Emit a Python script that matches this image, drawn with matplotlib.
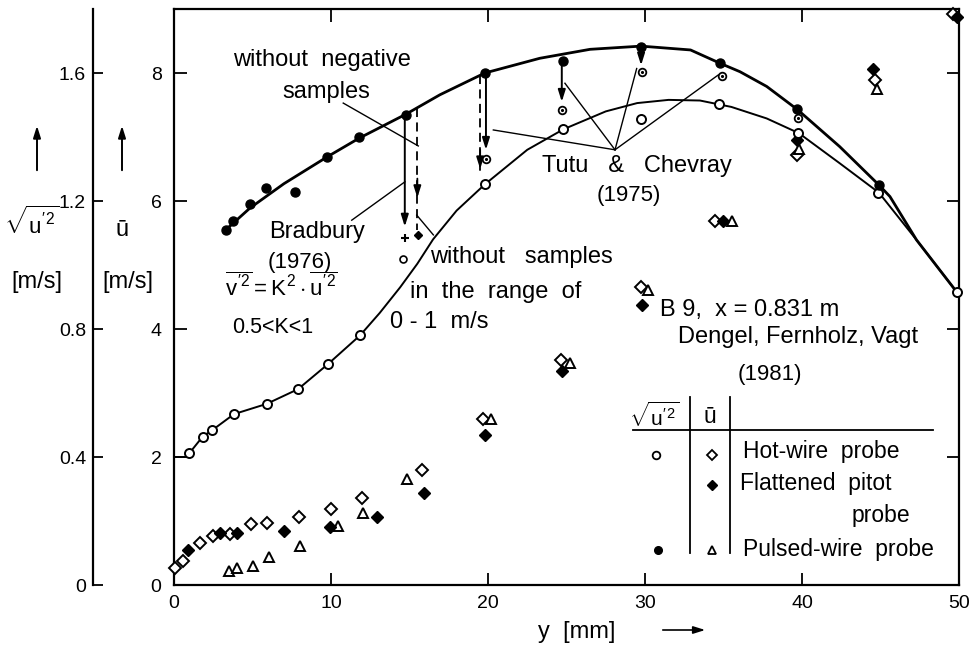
import matplotlib
matplotlib.use('Agg')
import matplotlib.pyplot as plt
from matplotlib.patches import FancyArrowPatch

plt.rcParams['font.family'] = ['Liberation Sans', 'DejaVu Sans']
plt.rcParams['mathtext.fontset'] = 'custom'
plt.rcParams['mathtext.rm'] = 'Liberation Sans'
plt.rcParams['mathtext.it'] = 'Liberation Sans'
plt.rcParams['mathtext.bf'] = 'Liberation Sans:bold'

# ---------------- data ----------------
# r.m.s. of u' (m/s), hot-wire probe (open circles)
y_rms_hw = [0.98, 1.83, 2.44, 3.82, 5.9, 7.9, 9.8, 11.85, 19.8, 24.8, 29.75, 34.73, 39.77, 44.86, 49.85]
urms_hw = [0.412, 0.464, 0.484, 0.534, 0.566, 0.612, 0.69, 0.78, 1.252, 1.424, 1.456, 1.502, 1.412, 1.226, 0.916]
# r.m.s. of u' (m/s), pulsed-wire probe (filled dots)
y_rms_pw = [3.3, 3.78, 4.84, 5.86, 7.73, 9.76, 11.78, 14.78, 19.8, 24.75, 29.75, 34.8, 39.7, 44.9]
urms_pw = [1.11, 1.138, 1.19, 1.242, 1.228, 1.338, 1.40, 1.468, 1.60, 1.636, 1.682, 1.63, 1.486, 1.25]
# hand-drawn fit curves, m/s
y_fit_hw = [0, 0.7, 0.98, 1.83, 2.44, 3.82, 5.9, 7.9, 9.8, 11.85, 13.1, 14.4, 15.5, 16.5, 18.0, 19.8,
            21.0, 22.5, 24.8, 27.5, 29.5, 31.5, 33.5, 35.5, 37.75, 39.8, 42.4, 44.9, 47.3, 49.85]
urms_fit_hw = [0.40, 0.40, 0.412, 0.464, 0.484, 0.534, 0.566, 0.612, 0.69, 0.78, 0.85, 0.93, 1.004, 1.08,
               1.17, 1.252, 1.30, 1.36, 1.424, 1.48, 1.506, 1.516, 1.514, 1.494, 1.458, 1.412, 1.318,
               1.226, 1.078, 0.916]
y_fit_pw = [3.3, 4.84, 7.0, 9.76, 11.78, 14.8, 16.94, 19.8, 23.3, 26.5, 29.75, 32.9, 34.8, 36.05,
            37.75, 39.7, 42.4, 44.9, 45.6, 47.3, 49.85]
urms_fit_pw = [1.11, 1.178, 1.254, 1.338, 1.396, 1.472, 1.532, 1.60, 1.646, 1.674, 1.684, 1.672, 1.63,
               1.604, 1.558, 1.486, 1.37, 1.25, 1.214, 1.078, 0.916]
# Tutu & Chevray (1975) corrected values (m/s)
y_tutu = [19.87, 24.7, 29.8, 34.9, 39.77]
urms_tutu = [1.33, 1.484, 1.602, 1.59, 1.458]
# Bradbury (1976) corrections at y = 15 mm (m/s)
y_brad_plus, urms_brad_plus = [14.7], [1.084]
y_brad_dot, urms_brad_dot = [15.56], [1.094]
y_brad_open, urms_brad_open = [14.6], [1.02]

# mean velocity u-bar (m/s)
y_mean_hw = [0.06, 0.55, 1.66, 2.46, 3.57, 4.93, 5.9, 7.98, 10.0, 11.97, 15.8, 19.66, 24.65, 29.75,
             34.46, 39.7, 44.65, 49.6]
umean_hw = [0.26, 0.38, 0.66, 0.76, 0.80, 0.95, 0.97, 1.06, 1.18, 1.36, 1.79, 2.59, 3.52, 4.65, 5.68,
            6.72, 7.89, 8.92]
y_mean_fp = [0.91, 2.93, 4.03, 7.0, 9.94, 12.95, 15.9, 19.8, 24.7, 29.8, 34.95, 39.7, 44.5, 49.9]
umean_fp = [0.55, 0.82, 0.82, 0.84, 0.91, 1.07, 1.43, 2.34, 3.35, 4.38, 5.68, 6.95, 8.06, 8.87]
y_mean_pw = [3.52, 4.03, 5.05, 6.03, 8.03, 10.47, 12.02, 14.82, 20.2, 25.2, 30.2, 35.56, 39.8, 44.75]
umean_pw = [0.22, 0.27, 0.30, 0.43, 0.61, 0.92, 1.12, 1.66, 2.6, 3.47, 4.61, 5.68, 6.82, 7.75]

x_ticks = [0, 10, 20, 30, 40, 50]
u_ticks = [0, 2, 4, 6, 8]
rms_ticks = [0, 0.4, 0.8, 1.2, 1.6]
rms_ticklabels = ['0', '0.4', '0.8', '1.2', '1.6']

# ---------------- figure ----------------
W, H = 969, 647
fig = plt.figure(figsize=(W / 100, H / 100), dpi=100)
L, R, T, B = 174, 959, 9, 585
ax = fig.add_axes([L / W, 1 - B / H, (R - L) / W, (B - T) / H])
ax.set_xlim(0, 50)
ax.set_ylim(0, 9)
ax2 = ax.twinx()
ax2.set_ylim(0, 1.8)

def fx(px):
    return px / W

def fy(py):
    return 1 - py / H

FS = 17
YS = 16
LS = 16.5
TS = 14
k = 'black'

for s in ax.spines.values():
    s.set_linewidth(1.6)
ax.set_xticks(x_ticks)
ax.set_xticklabels([str(v) for v in x_ticks])
ax.set_yticks(u_ticks)
ax.set_yticklabels([str(v) for v in u_ticks])
ax.tick_params(axis='both', direction='in', length=9, width=1.3, top=True, right=True,
               labelsize=TS)
ax.tick_params(axis='x', pad=7)
ax.tick_params(axis='y', pad=9)

for side in ['right', 'top', 'bottom']:
    ax2.spines[side].set_visible(False)
ax2.spines['left'].set_visible(True)
ax2.spines['left'].set_position(('outward', 58.3))
ax2.spines['left'].set_linewidth(1.6)
ax2.yaxis.set_ticks_position('left')
ax2.yaxis.set_label_position('left')
ax2.set_yticks(rms_ticks)
ax2.set_yticklabels(rms_ticklabels)
ax2.set_yticks([0], minor=True)
ax2.tick_params(axis='y', which='major', direction='in', length=7, width=1.3, labelsize=TS, pad=5)
ax2.tick_params(axis='y', which='minor', direction='inout', length=12, width=1.3)

# ---- curves and r.m.s. points ----
ax2.plot(y_fit_hw, urms_fit_hw, color=k, lw=1.4, zorder=2)
ax2.plot(y_fit_pw, urms_fit_pw, color=k, lw=2.0, zorder=2)
ax2.plot(y_rms_hw, urms_hw, 'o', ms=6.5, mfc='white', mec=k, mew=1.4, zorder=4, clip_on=False)
ax2.plot(y_rms_pw, urms_pw, 'o', ms=6.5, mfc=k, mec=k, zorder=4, clip_on=False)
ax2.plot(y_tutu, urms_tutu, 'o', ms=5.5, mfc='white', mec=k, mew=1.3, zorder=4)
ax2.plot(y_tutu, urms_tutu, '.', ms=2.5, color=k, zorder=5)
ax2.plot(y_brad_plus, urms_brad_plus, '+', ms=6, mew=1.5, color=k, zorder=4)
ax2.plot(y_brad_dot, urms_brad_dot, 'D', ms=4, color=k, zorder=4)
ax2.plot(y_brad_open, urms_brad_open, 'o', ms=5, mfc='white', mec=k, mew=1.2, zorder=4)

# ---- mean velocity points ----
ax.plot(y_mean_hw, umean_hw, 'D', ms=6, mfc='white', mec=k, mew=1.4, zorder=4, clip_on=False)
ax.plot(y_mean_fp, umean_fp, 'D', ms=6, mfc=k, mec=k, zorder=5, clip_on=False)
ax.plot(y_mean_pw, umean_pw, '^', ms=6.5, mfc='white', mec=k, mew=1.4, zorder=4, clip_on=False)

# ---- arrows (u-bar scale) ----
def arrow(x, y0, y1, dashed=False, head=None):
    if dashed:
        ax.plot([x, x], [y0, y1], color=k, lw=1.3, ls=(0, (5, 3)))
        hy = y1 if head is None else head
        ax.annotate('', xy=(x, hy), xytext=(x, hy + 0.3),
                    arrowprops=dict(arrowstyle='-|>,head_length=0.7,head_width=0.22', color=k,
                                    lw=1.3, shrinkA=0, shrinkB=0))
    else:
        ax.annotate('', xy=(x, y1), xytext=(x, y0),
                    arrowprops=dict(arrowstyle='-|>,head_length=0.7,head_width=0.22', color=k,
                                    lw=1.4, shrinkA=0, shrinkB=0))

arrow(14.7, 7.34, 5.6)
arrow(15.5, 7.46, 5.55, dashed=True, head=6.05)
arrow(19.5, 7.97, 6.46, dashed=True, head=6.5)
arrow(19.87, 8.0, 6.8)
arrow(24.7, 8.18, 7.55)
arrow(29.75, 8.41, 8.12)

def line(p, q, lw=1.0):
    ax.plot([p[0], q[0]], [p[1], q[1]], color=k, lw=lw)

line((10.78, 7.53), (15.56, 6.86))
line((11.32, 5.70), (14.71, 6.30))
line((16.52, 5.47), (15.46, 5.78))
for end in [(20.34, 7.11), (24.9, 7.84), (29.47, 8.07), (34.67, 7.97)]:
    line((28.09, 6.80), end)

# ---- annotation texts ----
def t(x, y, s, ha='center', size=FS):
    ax.text(x, y, s, ha=ha, va='center', fontsize=size)

t(9.41, 8.20, 'without  negative')
t(9.73, 7.71, 'samples')
t(9.09, 5.52, 'Bradbury')
t(8.03, 5.04, '(1976)', size=YS)
t(6.85, 4.66, r"$\overline{v'^{2}} = K^{2}\cdot\overline{u'^{2}}$", size=16)
t(6.3, 4.02, '0.5<K<1', size=15.5)
t(16.3, 5.12, 'without   samples', ha='left')
t(15.03, 4.58, 'in  the  range  of', ha='left')
t(13.76, 4.11, '0 - 1  m/s', ha='left')
t(29.47, 6.54, 'Tutu   &   Chevray')
t(28.94, 6.08, '(1975)', size=YS)
t(30.96, 4.30, 'B 9,  x = 0.831 m', ha='left')
t(32.1, 3.87, 'Dengel, Fernholz, Vagt', ha='left')
t(35.92, 3.29, '(1981)', ha='left', size=YS)

# ---- legend table ----
ax.plot([29.24, 48.34], [2.42, 2.42], color=k, lw=1.3)
ax.plot([32.87, 32.87], [0.5, 2.94], color=k, lw=1.3)
ax.plot([35.41, 35.41], [0.5, 2.94], color=k, lw=1.3)
t(30.57, 2.63, r"$\sqrt{u'^{2}}$", size=15)
t(34.14, 2.63, 'ū', size=LS)
ax.plot([30.73], [2.03], 'o', ms=5.5, mfc='white', mec=k, mew=1.3)
ax.plot([30.83], [0.55], 'o', ms=5.5, color=k)
ax.plot([34.25], [2.03], 'D', ms=5, mfc='white', mec=k, mew=1.3)
ax.plot([34.25], [1.56], 'D', ms=5, color=k)
ax.plot([34.25], [0.55], '^', ms=5.5, mfc='white', mec=k, mew=1.3)
t(36.24, 2.08, 'Hot-wire  probe', ha='left', size=LS)
t(36.05, 1.59, 'Flattened  pitot', ha='left', size=LS)
ax.text(46.88, 1.09, 'probe', ha='right', va='center', fontsize=LS)
t(36.24, 0.55, 'Pulsed-wire  probe', ha='left', size=LS)

# ---- axis labels (outside) ----
fig.text(fx(32), fy(223), r"$\sqrt{u'^{2}}$", ha='center', va='center', fontsize=16)
fig.text(fx(37), fy(282), '[m/s]', ha='center', va='center', fontsize=FS)
fig.text(fx(122), fy(230), 'ū', ha='center', va='center', fontsize=FS)
fig.text(fx(128), fy(282), '[m/s]', ha='center', va='center', fontsize=FS)
for xa in (37, 122):
    fig.add_artist(FancyArrowPatch((fx(xa), fy(173)), (fx(xa), fy(123)), transform=fig.transFigure,
                                   arrowstyle='-|>,head_length=0.7,head_width=0.22',
                                   mutation_scale=10, lw=1.4, color=k))
fig.text(fx(577), fy(632), 'y  [mm]', ha='center', va='center', fontsize=FS)
fig.add_artist(FancyArrowPatch((fx(660), fy(630)), (fx(708), fy(630)), transform=fig.transFigure,
                               arrowstyle='-|>,head_length=0.7,head_width=0.22',
                               mutation_scale=10, lw=1.2, color=k))

fig.savefig('out.png', dpi=100)
